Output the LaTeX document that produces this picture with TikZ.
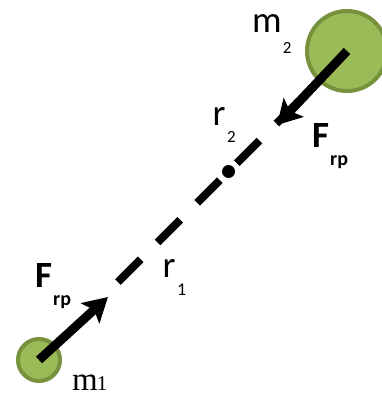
\documentclass[tikz,border=0pt]{standalone}
\usepackage{fontspec}
\newfontfamily\carl{Carlito}
\newfontfamily\tms{Liberation Serif}
\usetikzlibrary{arrows.meta}
\definecolor{massfill}{HTML}{9BBB59}
\definecolor{massedge}{HTML}{76923C}
\tikzset{
  mass/.style={circle, fill=massfill, draw=massedge, line width=4pt, inner sep=0pt},
  force/.style={line width=9pt, -{Stealth[length=24pt,width=27pt,inset=5pt]}},
  dist/.style={line width=8pt, dash pattern=on 32pt off 24pt},
  lbl/.style={inner sep=0pt, anchor=base west},
}
\begin{document}
\begin{tikzpicture}[x=1pt,y=-1pt]
\useasboundingbox (0,0) rectangle (382,396);
% masses
\node[mass, minimum size=42pt] (m1) at (39,360) {};
\node[mass, minimum size=80pt] (m2) at (347,51) {};
% distance line
\coordinate (d0) at (118,282);
\coordinate (d1) at (302,98);
\draw[dist] (d0) -- (d1);
\node[circle, fill=black, inner sep=0pt, minimum size=13pt] (cm) at (228.5,171.5) {};
% forces
\coordinate (t1) at (108,297);
\coordinate (t2) at (277,125);
\draw[force] (m1.center) -- (t1);
\draw[force] (m2.center) -- (t2);
% labels
\node[lbl] (lm2) at (252,33) {\carl\fontsize{37}{37}\selectfont m\kern1pt\raisebox{-21pt}{\fontsize{17}{17}\selectfont 2}};
\node[lbl] (lr2) at (212.5,125) {\carl\fontsize{37}{37}\selectfont r\kern1.5pt\raisebox{-17pt}{\fontsize{17}{17}\selectfont 2}};
\node[lbl] (lr1) at (162.5,277) {\carl\fontsize{37}{37}\selectfont r\kern1.5pt\raisebox{-18pt}{\fontsize{18}{18}\selectfont 1}};
\node[lbl] (lf1) at (35,287) {\carl\bfseries\fontsize{37}{37}\selectfont F\kern1pt\raisebox{-18pt}{\fontsize{20}{20}\selectfont rp}};
\node[lbl] (lf2) at (312,147) {\carl\bfseries\fontsize{37}{37}\selectfont F\kern1pt\raisebox{-18pt}{\fontsize{20}{20}\selectfont rp}};
\node[lbl] (lm1) at (72,390) {\tms\fontsize{33}{33}\selectfont m\kern-1pt{\fontsize{21}{21}\selectfont 1}};
\end{tikzpicture}
\end{document}
